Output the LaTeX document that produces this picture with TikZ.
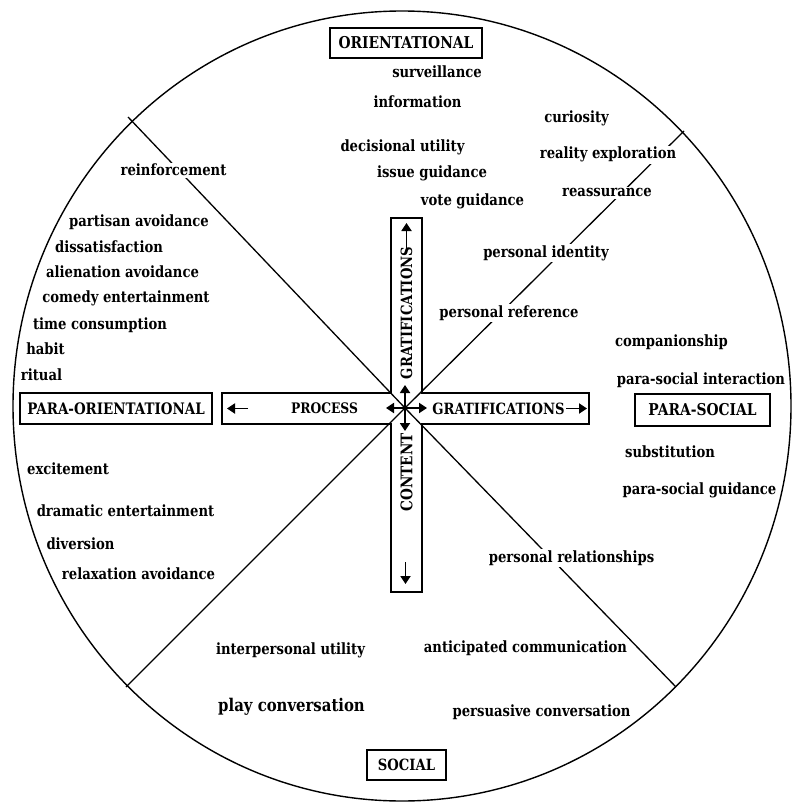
\documentclass[tikz,border=0pt]{standalone}
\usepackage{fontspec}
\setmainfont{DejaVu Serif}[FakeStretch=0.85]
\usetikzlibrary{arrows.meta}
\begin{document}
\begin{tikzpicture}[x=1pt,y=-1pt,
  lab/.style={font=\fontsize{15.5}{16}\selectfont\bfseries, inner sep=1.5pt, fill=white, anchor=base},
  big/.style={lab, font=\fontsize{17.5}{18}\selectfont\bfseries},
  capt/.style={font=\fontsize{15.5}{16}\selectfont\bfseries, inner sep=0pt},
  catbox/.style={draw, line width=1.5pt, fill=white, minimum height=30pt, inner sep=0pt,
                 font=\fontsize{16.3}{17}\selectfont\bfseries},
  divider/.style={line width=1.3pt},
  centerarrow/.style={line width=1.8pt, -{Triangle[length=8pt,width=10pt]}},
  textarrow/.style={line width=1.8pt, -{Triangle[length=8pt,width=10pt]}}]
\useasboundingbox (0,0) rectangle (792,802);

% outer circle
\draw[line width=1.4pt] (402,406) ellipse [x radius=389, y radius=395];

% cross of the two boxes
\draw[line width=1.6pt] (391,218) -- (422,218) -- (422,393) -- (589,393) -- (589,424)
  -- (422,424) -- (422,592) -- (391,592) -- (391,424) -- (222,424) -- (222,393)
  -- (391,393) -- cycle;

% sector dividers
\coordinate (O) at (405,408);
\coordinate (ul) at (128,117);
\coordinate (ur) at (684,131);
\coordinate (ll) at (126,687);
\coordinate (lr) at (676,687);
\draw[divider] (O) -- (ul);
\draw[divider] (O) -- (ur);
\draw[divider] (O) -- (ll);
\draw[divider] (O) -- (lr);

% central arrow star
\coordinate (au) at (405,385);
\coordinate (ad) at (405,431);
\coordinate (al) at (386,408);
\coordinate (ar) at (427,408);
\draw[centerarrow] (O) -- (au);
\draw[centerarrow] (O) -- (ad);
\draw[centerarrow] (O) -- (al);
\draw[centerarrow] (O) -- (ar);

% labels in the cross
\node[capt, font=\fontsize{14.5}{15}\selectfont\bfseries] (proc) at (324.5,408.5) {PROCESS};
\node[capt] (gratr) at (498.5,408.5) {GRATIFICATIONS};
\node[capt, rotate=90] (gratu) at (406.5,313) {GRATIFICATIONS};
\node[capt, rotate=90, font=\fontsize{16}{16}\selectfont\bfseries] (cont) at (406.5,472.5) {CONTENT};

% arrows that belong to the cross labels
\coordinate (pl0) at (248,408.5);
\coordinate (pl1) at (227,408.5);
\coordinate (gr0) at (566,408.5);
\coordinate (gr1) at (587,408.5);
\coordinate (gu0) at (406.5,251);
\coordinate (gu1) at (406.5,223);
\coordinate (cd0) at (405.5,562);
\coordinate (cd1) at (405.5,584);
\draw[textarrow] (pl0) -- (pl1);
\draw[textarrow] (gr0) -- (gr1);
\draw[textarrow] (gu0) -- (gu1);
\draw[textarrow] (cd0) -- (cd1);

% category boxes
\node[catbox, minimum width=152pt] (ori) at (406,43) {ORIENTATIONAL};
\node[catbox, minimum width=192pt, minimum height=31pt, font=\fontsize{15.8}{16}\selectfont\bfseries] (pori) at (116,408.5) {PARA-ORIENTATIONAL};
\node[catbox, minimum width=135pt, minimum height=32pt] (psoc) at (702.5,410) {PARA-SOCIAL};
\node[catbox, minimum width=79pt, font=\fontsize{15.5}{16}\selectfont\bfseries] (soc) at (406.5,765) {SOCIAL};

% orientational
\node[lab] (t1) at (437,78) {surveillance};
\node[lab] (t2) at (417.5,108) {information};
\node[lab] (t3) at (402.5,152) {decisional utility};
\node[lab] (t4) at (432,178) {issue guidance};
\node[lab] (t5) at (472.5,206) {vote guidance};
\node[lab] (t6) at (576.5,123) {curiosity};
\node[lab] (t7) at (608,159) {reality exploration};
\node[lab] (t8) at (607,197) {reassurance};
\node[lab] (t9) at (546,257) {personal identity};
\node[lab] (t10) at (509,317) {personal reference};

% para-orientational
\node[lab] (l1) at (173.5,176) {reinforcement};
\node[lab] (l2) at (139,226) {partisan avoidance};
\node[lab] (l3) at (109,252) {dissatisfaction};
\node[lab] (l4) at (122.5,277) {alienation avoidance};
\node[lab] (l5) at (126,302) {comedy entertainment};
\node[lab] (l6) at (100,329) {time consumption};
\node[lab] (l7) at (45.5,354) {habit};
\node[lab] (l8) at (41.5,380) {ritual};
\node[lab] (l9) at (68,474) {excitement};
\node[lab] (l10) at (125.5,516) {dramatic entertainment};
\node[lab] (l11) at (80.5,549) {diversion};
\node[lab] (l12) at (138.5,579) {relaxation avoidance};

% para-social
\node[lab] (r1) at (671.5,346) {companionship};
\node[lab] (r2) at (701,384) {para-social interaction};
\node[lab] (r3) at (670,457) {substitution};
\node[lab] (r4) at (699.5,494) {para-social guidance};
\node[lab] (r5) at (571.5,562) {personal relationships};

% social
\node[lab] (b1) at (290.5,654) {interpersonal utility};
\node[lab] (b2) at (525.5,652) {anticipated communication};
\node[big] (b3) at (291.5,711) {play conversation};
\node[lab] (b4) at (541.5,716) {persuasive conversation};
\end{tikzpicture}
\end{document}
